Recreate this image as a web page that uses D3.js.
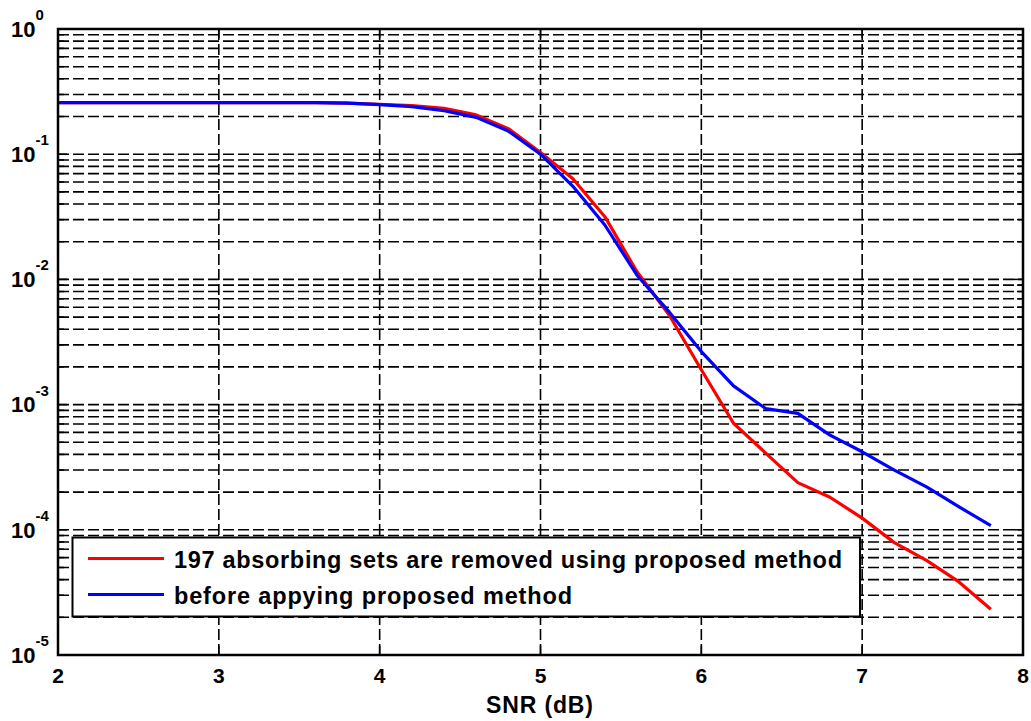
<!DOCTYPE html>
<html><head><meta charset="utf-8">
<script src="https://cdn.jsdelivr.net/npm/d3@7"></script>
<style>body{margin:0;background:#fff}svg{display:block}</style>
</head><body><svg id="c" width="1031" height="721"></svg>
<script>
const snr = [2,2.2,2.4,2.6,2.8,3,3.2,3.4,3.6,3.8,4,4.2,4.4,4.6,4.8,5,5.2,5.4,5.6,5.8,6,6.2,6.4,6.6,6.8,7,7.2,7.4,7.6,7.8];
const redBer = [0.258,0.258,0.258,0.258,0.258,0.258,0.258,0.258,0.258,0.256,0.25,0.245,0.232,0.206,0.16,0.103,0.064,0.0317,0.0115,0.0052,0.0019,0.00071,0.00041,0.000238,0.000182,0.000124,0.000079,0.000057,0.0000385,0.0000232];
const blueBer = [0.258,0.258,0.258,0.258,0.258,0.258,0.258,0.258,0.258,0.256,0.249,0.24,0.223,0.197,0.153,0.1,0.0557,0.0272,0.0108,0.0055,0.00265,0.00141,0.00093,0.00085,0.00057,0.00042,0.0003,0.00022,0.000153,0.000108];
const xTicks = [2,3,4,5,6,7,8];
const yExponents = [0,-1,-2,-3,-4,-5];
const legendLabels = ["197 absorbing sets are removed using proposed method","before appying proposed method"];
const colors = ["#ff0000","#0000ff"];

const FONT = '"Liberation Sans", Arial, sans-serif';
function txt(sel, size){
  return sel.style("font-family",FONT).style("font-weight","bold").style("font-size",size+"px").attr("fill","#000");
}

const svg = d3.select("#c");
const L=58,R=1023,T=29,B=655;
const x = d3.scaleLinear().domain([2,8]).range([L,R]);
const y = d3.scaleLog().domain([1e-5,1]).range([B,T]);

const minor = [];
for (let e=-5;e<0;e++) for (let m=1;m<10;m++) minor.push(m*Math.pow(10,e));
const g = svg.append("g");
g.selectAll("line.h").data(minor.filter(v=>v>1e-5*1.0001)).enter().append("line")
 .attr("x1",L).attr("x2",R).attr("y1",d=>y(d)).attr("y2",d=>y(d))
 .attr("stroke","#000").attr("stroke-width",1.6).attr("stroke-dasharray","11,4");
g.selectAll("line.v").data(xTicks.slice(1,-1)).enter().append("line")
 .attr("y1",T).attr("y2",B).attr("x1",d=>x(d)).attr("x2",d=>x(d))
 .attr("stroke","#000").attr("stroke-width",1.6).attr("stroke-dasharray","11,4");

const tk = svg.append("g").attr("stroke","#000").attr("stroke-width",1.5);
xTicks.forEach(v=>{
  tk.append("line").attr("x1",x(v)).attr("x2",x(v)).attr("y1",B).attr("y2",B-9);
  tk.append("line").attr("x1",x(v)).attr("x2",x(v)).attr("y1",T).attr("y2",T+9);
});
minor.concat([1]).forEach(v=>{
  const len = Math.abs(Math.log10(v)-Math.round(Math.log10(v)))<1e-9 ? 9 : 6;
  tk.append("line").attr("x1",L).attr("x2",L+len).attr("y1",y(v)).attr("y2",y(v));
  tk.append("line").attr("x1",R).attr("x2",R-len).attr("y1",y(v)).attr("y2",y(v));
});

const line = d3.line().x((d,i)=>x(snr[i])).y(d=>y(d));
[redBer,blueBer].forEach((s,k)=>{
  svg.append("path").datum(s).attr("d",line).attr("fill","none")
   .attr("stroke",colors[k]).attr("stroke-width",3.2).attr("stroke-linejoin","round");
});

const lg = svg.append("g");
lg.append("rect").attr("x",72.5).attr("y",537.5).attr("width",787.5).attr("height",79)
  .attr("fill","#fff").attr("stroke","#000").attr("stroke-width",2);
const lw=[668,398];
legendLabels.forEach((t,i)=>{
  const yy = 558.5 + i*36;
  lg.append("line").attr("x1",88).attr("x2",164).attr("y1",yy).attr("y2",yy)
    .attr("stroke",colors[i]).attr("stroke-width",3.2);
  txt(lg.append("text").attr("x",174).attr("y",yy+9.5),23.5)
    .attr("textLength",lw[i]).attr("lengthAdjust","spacing").text(t);
});

svg.append("rect").attr("x",L).attr("y",T).attr("width",R-L).attr("height",B-T)
  .attr("fill","none").attr("stroke","#000").attr("stroke-width",2.5);

xTicks.forEach(v=>{
  txt(svg.append("text").attr("x",x(v)).attr("y",683).attr("text-anchor","middle"),21).text(v);
});
txt(svg.append("text").attr("x",539.5).attr("y",713).attr("text-anchor","middle"),23)
  .attr("textLength",107).attr("lengthAdjust","spacing").text("SNR (dB)");

yExponents.forEach(e=>{
  const yy = y(Math.pow(10,e));
  txt(svg.append("text").attr("x",35.5).attr("y",yy+7.8).attr("text-anchor","end"),22).text("10");
  txt(svg.append("text").attr("x",35.5).attr("y",yy-9).attr("text-anchor","start"),15).text(String(e));
});
</script></body></html>
